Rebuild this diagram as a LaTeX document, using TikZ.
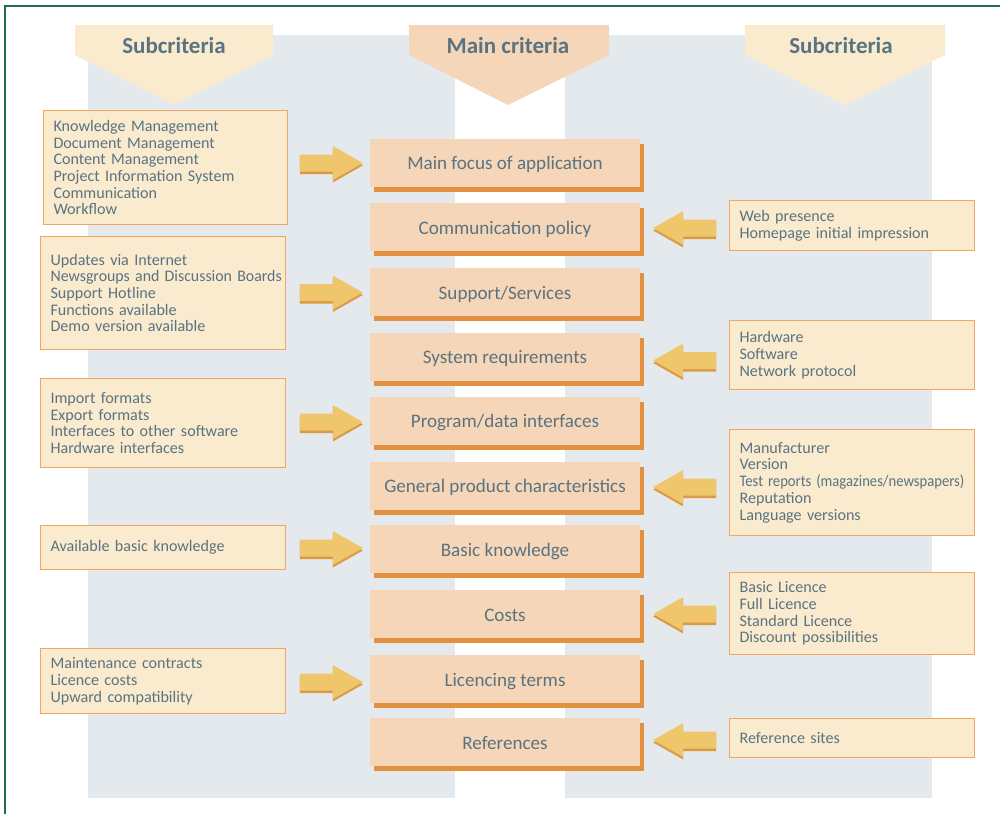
\documentclass[tikz,border=0pt]{standalone}
\usepackage{fontspec}
\setmainfont{Carlito}
\usetikzlibrary{shadows}

\definecolor{framec}{HTML}{1F6B5E}
\definecolor{colgray}{HTML}{E3E9ED}
\definecolor{cream}{HTML}{FAEBCF}
\definecolor{peach}{HTML}{F6D6B8}
\definecolor{mainshadow}{HTML}{E4913F}
\definecolor{boxborder}{HTML}{EFA661}
\definecolor{arrowfill}{HTML}{F0C66D}
\definecolor{arrowshade}{HTML}{DC9A45}
\definecolor{textc}{HTML}{5A7381}

\tikzset{
  mainbox/.style={fill=peach, minimum width=270pt, minimum height=48pt,
    inner sep=0pt, text=textc, font=\fontsize{19.1}{22}\selectfont,
    text height=15pt, text depth=1pt,
    general shadow={fill=mainshadow, shadow xshift=4pt, shadow yshift=-5pt}},
  subbox/.style={fill=cream, draw=boxborder, line width=1.1pt, anchor=north west,
    inner xsep=10pt, inner ysep=0pt, align=left, text=textc,
    font=\fontsize{16.1}{16.7}\selectfont},
  header/.style={text=textc, font=\bfseries\fontsize{23}{26}\selectfont},
  rarrow/.pic={
    \fill[arrowshade, yshift=-2.5pt] (-63,-8.5) -- (-30,-8.5) -- (-30,-17) -- (0,0)
      -- (-30,17) -- (-30,8.5) -- (-63,8.5) -- cycle;
    \fill[arrowfill] (-63,-8.5) -- (-30,-8.5) -- (-30,-17) -- (0,0)
      -- (-30,17) -- (-30,8.5) -- (-63,8.5) -- cycle;
  },
  larrow/.pic={
    \fill[arrowshade, yshift=-2.5pt] (63,-8.5) -- (30,-8.5) -- (30,-17) -- (0,0)
      -- (30,17) -- (30,8.5) -- (63,8.5) -- cycle;
    \fill[arrowfill] (63,-8.5) -- (30,-8.5) -- (30,-17) -- (0,0)
      -- (30,17) -- (30,8.5) -- (63,8.5) -- cycle;
  },
}

\begin{document}
\begin{tikzpicture}[x=1pt, y=-1pt]
\useasboundingbox (0,0) rectangle (1000,814);

% frame lines
\draw[framec, line width=2pt] (5.3,814) -- (5.3,5.7) -- (1000,5.7);

% background columns
\fill[colgray] (88,35) rectangle (455,798);
\fill[colgray] (565,35) rectangle (932,798);

% column headers
\fill[cream] (75,25) -- (273,25) -- (273,55) -- (174,105) -- (75,55) -- cycle;
\fill[peach] (409,25) -- (609,25) -- (609,55) -- (508,105) -- (409,55) -- cycle;
\fill[cream] (745,25) -- (945,25) -- (945,55) -- (845,105) -- (745,55) -- cycle;
\node[header] (hl) at (174,46) {Subcriteria};
\node[header] (hm) at (508,46) {Main criteria};
\node[header] (hr) at (841,46) {Subcriteria};

% main criteria
\node[mainbox] (m1) at (505,162.5) {Main focus of application};
\node[mainbox] (m2) at (505,227) {Communication policy};
\node[mainbox] (m3) at (505,292) {Support/Services};
\node[mainbox] (m4) at (505,356.5) {System requirements};
\node[mainbox] (m5) at (505,420.5) {Program/data interfaces};
\node[mainbox] (m6) at (505,485.5) {General product characteristics};
\node[mainbox] (m7) at (505,549) {Basic knowledge};
\node[mainbox] (m8) at (505,614) {Costs};
\node[mainbox] (m9) at (505,679) {Licencing terms};
\node[mainbox] (m10) at (505,742) {References};

% left subcriteria
\node[subbox, minimum width=244pt, minimum height=114pt, text width=224pt] (l1) at (43,110)
  {Knowledge Management\\Document Management\\Content Management\\Project Information System\\Communication\\Workflow};
\node[subbox, minimum width=245pt, minimum height=113pt, text width=225pt] (l2) at (40,236)
  {Updates via Internet\\\scalebox{0.985}[1]{Newsgroups and Discussion Boards}\\Support Hotline\\Functions available\\Demo version available};
\node[subbox, minimum width=245pt, minimum height=89pt, text width=225pt] (l3) at (40,378)
  {Import formats\\Export formats\\Interfaces to other software\\Hardware interfaces};
\node[subbox, minimum width=245pt, minimum height=44pt, text width=225pt] (l4) at (40,525)
  {Available basic knowledge};
\node[subbox, minimum width=245pt, minimum height=65pt, text width=225pt] (l5) at (40,648)
  {Maintenance contracts\\Licence costs\\Upward compatibility};

% right subcriteria
\node[subbox, minimum width=245pt, minimum height=50pt, text width=225pt] (r1) at (729,200)
  {Web presence\\Homepage initial impression};
\node[subbox, minimum width=245pt, minimum height=69pt, text width=225pt] (r2) at (729,320)
  {Hardware\\Software\\Network protocol};
\node[subbox, minimum width=245pt, minimum height=106pt, text width=225pt] (r3) at (729,429)
  {Manufacturer\\Version\\\scalebox{0.91}[1]{Test reports (magazines/newspapers)}\\Reputation\\Language versions};
\node[subbox, minimum width=245pt, minimum height=82pt, text width=225pt] (r4) at (729,572)
  {Basic Licence\\Full Licence\\Standard Licence\\Discount possibilities};
\node[subbox, minimum width=245pt, minimum height=39pt, text width=225pt] (r5) at (729,718)
  {Reference sites};

% block arrows into the main criteria
\path (m1.west) ++(-7,0.5) pic {rarrow};
\path (m3.west) ++(-7,0.5) pic {rarrow};
\path (m5.west) ++(-7,1.5) pic {rarrow};
\path (m7.west) ++(-7,-1) pic {rarrow};
\path (m9.west) ++(-7,3) pic {rarrow};
\path (m2.east) ++(13,1) pic {larrow};
\path (m4.east) ++(13,4) pic {larrow};
\path (m6.east) ++(13,1.5) pic {larrow};
\path (m8.east) ++(13,0) pic {larrow};
\path (m10.east) ++(13,-2) pic {larrow};
\end{tikzpicture}
\end{document}
